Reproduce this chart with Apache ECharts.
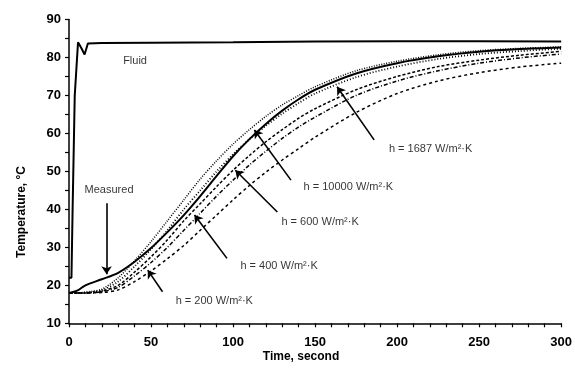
<!DOCTYPE html>
<html>
<head>
<meta charset="utf-8">
<script src="https://cdn.jsdelivr.net/npm/echarts@6/dist/echarts.min.js"></script>
<style>
  html, body { margin: 0; padding: 0; background: #fff; }
  #chart { width: 575px; height: 392px; }
</style>
</head>
<body>
<div id="chart"></div>
<script>
// time axis for the fluid trace
const fluidTime = [0, 1.5, 2.2, 3.5, 5.5, 7.5, 9.5, 11.5, 20, 50, 100, 150, 200, 250, 300];
const fluidTemp = [22, 22, 40, 70, 84, 82.5, 80.8, 83.7, 83.8, 83.9, 84, 84.2, 84.3, 84.3, 84.2];

// time axis shared by measured and computed curves
const simTime = [0, 5, 10, 20, 30, 40, 50, 60, 70, 80, 90, 100, 110, 120, 130, 140, 150, 175, 200, 225, 250, 275, 300];
const measured = [18, 18.6, 20, 21.6, 23.3, 26.2, 29.8, 34, 38.5, 43.5, 48.8, 54, 58.5, 62.5, 66, 69, 71.5, 75.8, 78.5, 80.3, 81.5, 82.2, 82.6];
const h10000 = [18, 18, 18.2, 19, 22, 26.5, 31.5, 37, 42.5, 48, 52.8, 57.2, 61, 64.5, 67.5, 70, 72.3, 76.5, 79, 80.7, 81.8, 82.4, 82.8];
const h1687 = [18, 18, 18.1, 18.7, 21, 25, 29.5, 34.5, 40, 45, 50, 54.5, 58.5, 62, 65.2, 68, 70.5, 74.8, 77.6, 79.6, 80.9, 81.7, 82.3];
const h600 = [18, 18, 18, 18.5, 20, 23.5, 27.5, 32, 37, 41.5, 46, 50.3, 54.2, 57.8, 61, 64, 66.5, 71.5, 75, 77.6, 79.3, 80.6, 81.6];
const h400 = [18, 18, 18, 18.3, 19.5, 22.5, 26, 30, 34.5, 39, 43.5, 47.7, 51.7, 55.3, 58.7, 61.7, 64.3, 70, 73.8, 76.5, 78.5, 79.9, 80.9];
const h200 = [18, 18, 18, 18.1, 18.8, 21, 23.8, 27, 30.5, 34.5, 38.5, 42.5, 46.3, 49.8, 53, 56, 59, 65.5, 70.5, 73.8, 76, 77.5, 78.5];

// annotations (data coordinates)
const labelText = ['Fluid', 'Measured', 'h = 200 W/m\u00B2\u00B7K', 'h = 400 W/m\u00B2\u00B7K', 'h = 600 W/m\u00B2\u00B7K', 'h = 10000 W/m\u00B2\u00B7K', 'h = 1687 W/m\u00B2\u00B7K'];
const labelAt = [[33, 79], [9.5, 45], [65, 16], [104.5, 25], [129.5, 36.6], [143, 46], [195, 56]];
const arrowFrom = [[22.9, 41.6], [57, 18.3], [96.3, 27.1], [127, 39.3], [135.3, 47.7], [186, 58.3]];
const arrowTo = [[22.9, 22.9], [48, 24], [76.5, 38.5], [101.4, 50.3], [113, 60.9], [163.4, 72.3]];

const xTicks = [0, 50, 100, 150, 200, 250, 300];
const yTicks = [10, 20, 30, 40, 50, 60, 70, 80, 90];

const zip = (xs, ys) => xs.map((x, i) => [x, ys[i]]);
const font = 'Liberation Sans, Arial, sans-serif';

const chart = echarts.init(document.getElementById('chart'), null, { renderer: 'canvas' });

const curve = (name, data, dash, width) => ({
  name: name,
  type: 'line',
  data: data,
  symbol: 'none',
  smooth: 0.3,
  lineStyle: { color: '#000', width: width, type: dash },
  z: 3
});

const option = {
  animation: false,
  backgroundColor: '#fff',
  grid: { left: 69, right: 13, top: 19.5, bottom: 68.7, containLabel: false },
  xAxis: {
    type: 'value',
    min: xTicks[0],
    max: xTicks[xTicks.length - 1],
    interval: 50,
    axisLine: { lineStyle: { color: '#000', width: 1.5 } },
    axisTick: { length: 4, lineStyle: { color: '#000', width: 1.2 } },
    minorTick: { show: true, splitNumber: 5, length: 4, lineStyle: { color: '#000', width: 1.2 } },
    splitLine: { show: false },
    axisLabel: { color: '#000', fontFamily: font, fontWeight: 'bold', fontSize: 13, margin: 13 }
  },
  yAxis: {
    type: 'value',
    min: yTicks[0],
    max: yTicks[yTicks.length - 1],
    interval: 10,
    axisLine: { show: true, lineStyle: { color: '#000', width: 1.5 } },
    axisTick: { show: true, length: 4, lineStyle: { color: '#000', width: 1.2 } },
    minorTick: { show: true, splitNumber: 2, length: 4, lineStyle: { color: '#000', width: 1.2 } },
    splitLine: { show: false },
    axisLabel: { color: '#000', fontFamily: font, fontWeight: 'bold', fontSize: 13, margin: 8 }
  },
  graphic: [
    {
      type: 'text', x: 22, y: 212, rotation: Math.PI / 2,
      style: { text: 'Temperature, \u00B0C', fill: '#000', font: 'bold 12px ' + font, textAlign: 'center', textVerticalAlign: 'middle' }
    },
    {
      type: 'text', x: 301, y: 357,
      style: { text: 'Time, second', fill: '#000', font: 'bold 12px ' + font, textAlign: 'center', textVerticalAlign: 'middle' }
    }
  ],
  series: [
    {
      name: 'Fluid',
      type: 'line',
      data: zip(fluidTime, fluidTemp),
      symbol: 'none',
      lineStyle: { color: '#000', width: 2 },
      z: 4
    },
    curve('h=200', zip(simTime, h200), [3, 3], 1.5),
    curve('h=400', zip(simTime, h400), [4, 2, 1, 2], 1.5),
    curve('h=600', zip(simTime, h600), [3, 2], 1.5),
    curve('h=1687', zip(simTime, h1687), [1, 2], 1.8),
    curve('h=10000', zip(simTime, h10000), [1, 1.5], 1.5),
    curve('Measured', zip(simTime, measured), 'solid', 2),
    {
      name: 'arrows',
      type: 'lines',
      coordinateSystem: 'cartesian2d',
      symbol: ['none', 'arrow'],
      symbolSize: 8,
      lineStyle: { color: '#000', width: 1.6, opacity: 1, curveness: 0 },
      data: arrowFrom.map((p, i) => ({ coords: [p, arrowTo[i]] })),
      z: 5
    },
    {
      name: 'labels',
      type: 'scatter',
      symbolSize: 0,
      data: labelAt.map((p, i) => ({ value: p, name: labelText[i] })),
      label: {
        show: true,
        position: 'right',
        distance: 0,
        formatter: p => p.name,
        color: '#000',
        fontFamily: font,
        fontSize: 11
      },
      z: 6
    }
  ]
};

chart.setOption(option);
</script>
</body>
</html>
